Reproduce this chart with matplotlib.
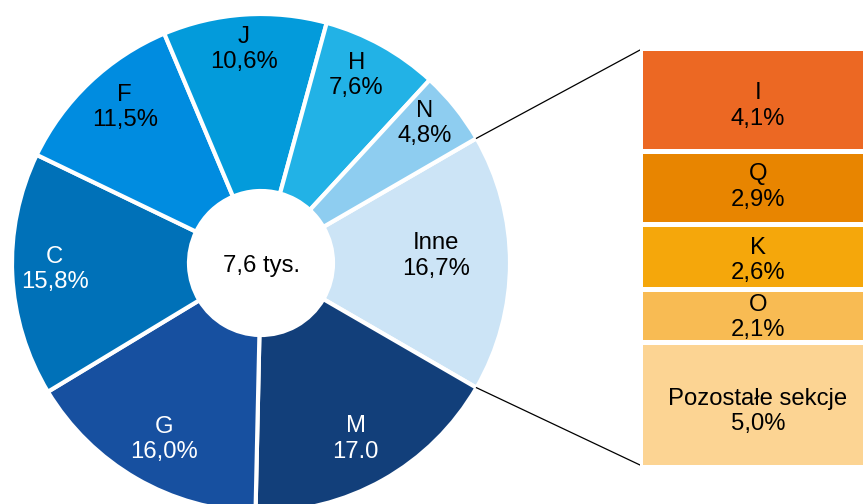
import numpy as np
import matplotlib
matplotlib.use("Agg")
import matplotlib.pyplot as plt

plt.rcParams["font.family"] = ["Liberation Sans", "DejaVu Sans"]

# ── dane: struktura wg sekcji ──────────────────────────────────────────────
SECTIONS = ["Inne", "M", "G", "C", "F", "J", "H", "N"]
SHARES = [16.7, 17.0, 16.0, 15.8, 11.5, 10.6, 7.6, 4.8]
SHARE_LABELS = ["16,7%", "17.0", "16,0%", "15,8%", "11,5%", "10,6%", "7,6%", "4,8%"]
TOTAL_LABEL = "7,6 tys."

# rozbicie pozycji "Inne"
OTHER_SECTIONS = ["I", "Q", "K", "O", "Pozostałe sekcje"]
OTHER_SHARES = [4.1, 2.9, 2.6, 2.1, 5.0]
OTHER_LABELS = ["4,1%", "2,9%", "2,6%", "2,1%", "5,0%"]

# ── styl ───────────────────────────────────────────────────────────────────
PIE_COLORS = ["#cce4f6", "#123f7a", "#1750a0", "#0071b8",
              "#008ce0", "#039bdb", "#22b2e6", "#8ecdf0"]
TEXT_COLORS = ["black", "white", "white", "white",
               "black", "black", "black", "black"]
LABEL_R = [0.70, 0.80, 0.80, 0.83, 0.80, 0.87, 0.85, 0.87]
LABEL_SHIFT = [(1, 7), (-3, -2.5), (3, -4), (0, 3), (1, 11), (-3, -2.5), (-7, 2.5), (-5, 4)]
BAR_LABEL_SHIFT = [0.28, 0.0, 0.16, 0.08, 0.28]   # w jednostkach osi słupka
BAR_COLORS = ["#ec6823", "#e88500", "#f5a70b", "#f8bb53", "#fcd493"]
FS = 17.2
LS = 1.2

W, H = 863, 504
CX, CY, R, HOLE = 261, H - 263, 249, 72
BAR_X0, BAR_X1, BAR_TOP, BAR_BOT = 640, 876, 50, 465

fig = plt.figure(figsize=(W / 100, H / 100), dpi=100)
ax = fig.add_axes([0, 0, 1, 1])

start = SHARES[0] / sum(SHARES) * 360 / 2
wedges, _ = ax.pie(SHARES, colors=PIE_COLORS, startangle=start, counterclock=False,
                   center=(CX, CY), radius=R,
                   wedgeprops=dict(width=R - HOLE, edgecolor="white", linewidth=3))
ax.set_xlim(0, W)
ax.set_ylim(0, H)
ax.set_aspect("equal")
ax.axis("off")

for i, w in enumerate(wedges):
    ang = np.deg2rad((w.theta1 + w.theta2) / 2)
    x = CX + LABEL_R[i] * R * np.cos(ang) + LABEL_SHIFT[i][0]
    y = CY + LABEL_R[i] * R * np.sin(ang) + LABEL_SHIFT[i][1]
    ax.text(x, y, f"{SECTIONS[i]}\n{SHARE_LABELS[i]}", ha="center", va="center",
            fontsize=FS, color=TEXT_COLORS[i], linespacing=LS)

ax.text(CX, CY - 3, TOTAL_LABEL, ha="center", va="center", fontsize=FS)

# linie łączące "Inne" ze słupkiem
w0 = wedges[0]
for theta, by in [(w0.theta2, BAR_TOP), (w0.theta1, BAR_BOT)]:
    t = np.deg2rad(theta)
    ax.plot([CX + R * np.cos(t), BAR_X0], [CY + R * np.sin(t), H - by],
            color="black", lw=0.9)

# ── słupek z rozbiciem ─────────────────────────────────────────────────────
pad = 2.5
bax = fig.add_axes([BAR_X0 / W, (H - BAR_BOT - pad) / H,
                    (BAR_X1 - BAR_X0) / W, (BAR_BOT - BAR_TOP + 2 * pad) / H])
bottom = 0
for i, v in enumerate(OTHER_SHARES):
    bax.bar(0, v, bottom=bottom, width=1, color=BAR_COLORS[i],
            edgecolor="white", linewidth=3.6)
    bax.text(0, bottom + v / 2 + BAR_LABEL_SHIFT[i], f"{OTHER_SECTIONS[i]}\n{OTHER_LABELS[i]}",
             ha="center", va="center", fontsize=FS, linespacing=LS)
    bottom += v
bax.set_xlim(-0.5, 0.5)
bax.set_ylim(sum(OTHER_SHARES), 0)
bax.axis("off")

fig.savefig("out.png", dpi=100)
